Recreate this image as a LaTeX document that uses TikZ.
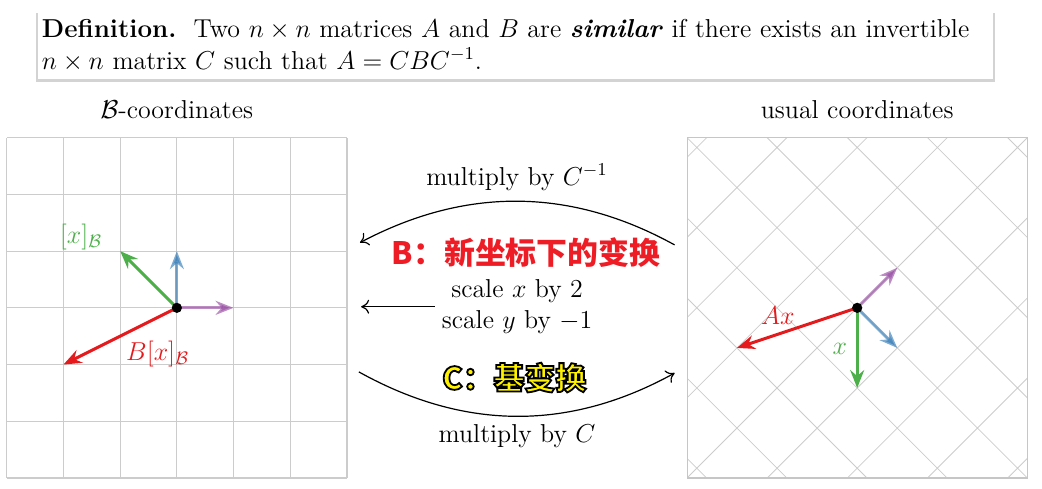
\RequirePackage{fix-cm}
\documentclass[tikz,border=0pt]{standalone}
\usepackage{fontspec}
\newfontfamily\cjk{Noto Sans CJK SC}
\usetikzlibrary{arrows.meta,shadows,positioning}

\definecolor{vgreen}{RGB}{77,175,74}
\definecolor{vred}{RGB}{228,26,28}
\definecolor{vblue}{RGB}{55,126,184}
\definecolor{vpurple}{RGB}{152,78,163}
\definecolor{hlred}{RGB}{238,28,37}
\definecolor{hlyellow}{RGB}{255,242,0}

% filled glyphs with a stroked edge
\newcommand\edged[1]{\special{pdf:literal direct 0 0 0 RG 0.9 w 2 Tr}#1\special{pdf:literal direct 0 Tr}}

\tikzset{
  gridline/.style={gray!40, line width=.6pt},
  diaggrid/.style={gray!40, line width=.4pt},
  frame/.style={gray!45, line width=.6pt},
  vec/.style={line width=1.5pt, -{Stealth[length=9pt,width=7pt,inset=3pt]}},
  basisvec/.style={vec, opacity=.65},
  link/.style={semithick, -{To[length=4pt,width=7pt]}},
  defbox/.style={fill=white, drop shadow={opacity=.35, shadow xshift=0mm, shadow yshift=-.4mm, shadow scale=1.004},
    text width=16.7cm, minimum height=1.2cm, inner xsep=2pt, inner ysep=2pt, align=left},
  hlB/.style={font=\fontsize{15.5}{20}\selectfont\cjk\bfseries, text=hlred},
  hlC/.style={font=\fontsize{15.5}{20}\selectfont\cjk\bfseries, text=hlyellow},
}

\begin{document}
\begin{tikzpicture}[font=\fontsize{13}{16}\selectfont]
\useasboundingbox (0,0) rectangle (18.38,8.62);

\node[defbox] (def) at (9.09,7.82) {\textbf{Definition.}\ \ Two $n\times n$ matrices $A$ and $B$ are \textbf{\textit{similar}} if there exists an invertible\\
$n\times n$ matrix $C$ such that $A=CBC^{-1}$.};

% B-coordinates
\begin{scope}[shift={(3.12,3.19)}]
\draw[gridline] (-3,-3) grid (3,3);
\coordinate (oL) at (0,0);
\node[above=6pt] (titleL) at (0,3) {$\mathcal{B}$-coordinates};
\draw[basisvec, vpurple] (oL) -- (1,0);
\draw[basisvec, vblue] (oL) -- (0,1);
\draw[vec, vgreen] (oL) -- (-1,1) node[anchor=east, xshift=-5pt, yshift=7pt] (lxB) {$[x]_{\mathcal{B}}$};
\draw[vec, vred] (oL) -- node[pos=.17, below=8pt] (lBxB) {$B[x]_{\mathcal{B}}$} (-2,-1);
\fill (oL) circle (.09);
\end{scope}

% usual coordinates
\begin{scope}[shift={(15.12,3.19)}]
\begin{scope}
\clip (-3,-3) rectangle (3,3);
\draw[diaggrid, rotate=45] (-5,-5) grid (5,5);
\end{scope}
\draw[frame] (-3,-3) rectangle (3,3);
\coordinate (oR) at (0,0);
\node[above=6pt] (titleR) at (0,3) {usual coordinates};
\draw[basisvec, vpurple] (oR) -- (.7071,.7071);
\draw[basisvec, vblue] (oR) -- (.7071,-.7071);
\draw[vec, vgreen] (oR) -- node[pos=.51, left=1pt] (lx) {$x$} (0,-1.4142);
\draw[vec, vred] (oR) -- node[pos=.66, above=1pt] (lAx) {$Ax$} (-2.1213,-.7071);
\fill (oR) circle (.09);
\end{scope}

% between the two pictures
\node (mulCinv) at (9.12,5.49) {multiply by $C^{-1}$};
\node[hlB] (newB) at (9.28,4.16) {B：新坐标下的变换};
\node[align=center] (scale) at (9.12,3.21) {scale $x$ by 2\\ scale $y$ by $-1$};
\node[hlC] (baseC) at (9.07,1.96) {\edged{C：基变换}};
\node (mulC) at (9.12,0.92) {multiply by $C$};

\coordinate (aR1) at (11.9,4.30);
\coordinate (aL1) at (6.35,4.34);
\coordinate (sL) at (6.37,3.21);
\coordinate (aL2) at (6.33,2.06);
\coordinate (aR2) at (11.9,2.04);

\draw[link] (aR1) .. controls (10.05,5.32) and (8.2,5.32) .. (aL1);
\draw[link] (scale.west) -- (sL);
\draw[link] (aL2) .. controls (8.2,1.02) and (10.05,1.02) .. (aR2);
\end{tikzpicture}
\end{document}
